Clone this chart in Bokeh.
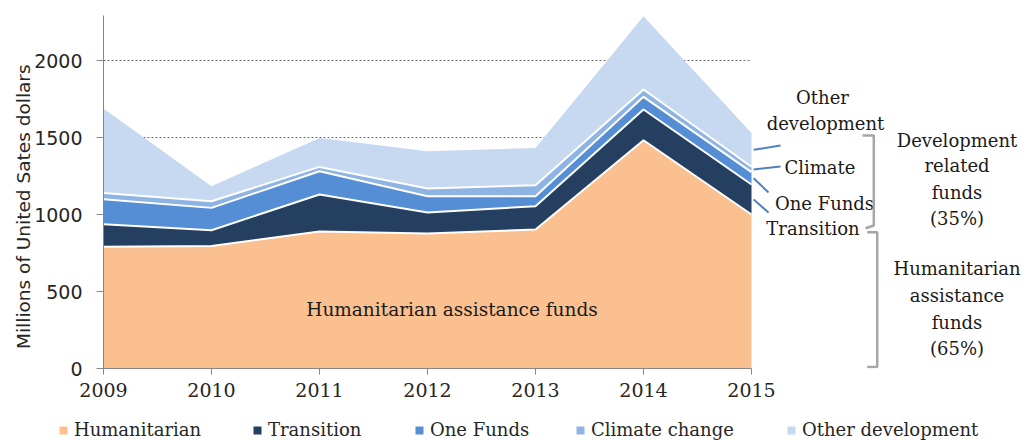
import math
from bokeh.plotting import figure
from bokeh.layouts import column, row
from bokeh.models import (ColumnDataSource, FixedTicker, Legend, LegendItem,
                          Range1d)
from bokeh.embed import file_html
from bokeh.resources import INLINE
from bokeh.core.properties import value

# ---------------- data ----------------
years = [2009, 2010, 2011, 2012, 2013, 2014, 2015]
humanitarian = [790, 795, 890, 876, 903, 1482, 1000]
transition = [147, 103, 240, 137, 151, 200, 195]
one_funds = [162, 145, 151, 106, 65, 82, 80]
climate_change = [41, 43, 28, 50, 71, 48, 35]
other_development = [548, 98, 188, 242, 242, 476, 220]

series_names = ["Humanitarian", "Transition", "One Funds", "Climate change",
                "Other development"]
y_ticks = [0, 500, 1000, 1500, 2000]
x_ticks = years

colors = ["#FAC090", "#243F60", "#558ED5", "#8EB4E3", "#C6D9F1"]

# ---------------- geometry (annotation placement only) ----------
PX_PER_YEAR = 108.0
PX_PER_UNIT = 0.154
LEFT, TOP, BOTTOM, W = 103, 15, 368, 1027
MAIN_H = 410
LEG_H = 440 - MAIN_H
FRAME_W = W - LEFT
FRAME_H = BOTTOM - TOP


def img_to_data(ix, iy):
    """convert a canvas pixel position to data coords"""
    return 2009 + (ix - LEFT) / PX_PER_YEAR, (BOTTOM - iy) / PX_PER_UNIT


p = figure(width=W, height=MAIN_H, output_backend="svg", toolbar_location=None,
           x_range=Range1d(2009, 2009 + FRAME_W / PX_PER_YEAR),
           y_range=Range1d(0, FRAME_H / PX_PER_UNIT),
           min_border_left=LEFT, min_border_right=0, min_border_top=TOP,
           min_border_bottom=MAIN_H - BOTTOM)
p.outline_line_color = None
p.xgrid.visible = False
p.ygrid.visible = False
p.background_fill_color = "white"

# dashed grid lines, only over the data span
p.segment(x0=[years[0]] * (len(y_ticks) - 1), x1=[years[-1]] * (len(y_ticks) - 1),
          y0=y_ticks[1:], y1=y_ticks[1:], line_color="#6F6F6F",
          line_width=1, line_dash="2 2")

src = ColumnDataSource(dict(year=years, hum=humanitarian, tra=transition,
                            one=one_funds, cli=climate_change,
                            oth=other_development))
stackers = ["hum", "tra", "one", "cli", "oth"]
areas = p.varea_stack(stackers, x="year", color=colors, source=src)

# white separator lines at the top of each layer (except last)
cum = [0] * len(years)
tops = []
for s in [humanitarian, transition, one_funds, climate_change, other_development]:
    cum = [a + b for a, b in zip(cum, s)]
    tops.append(list(cum))
for t in tops[:-1]:
    p.line(years, t, line_color="white", line_width=2)

# ---------------- axes ----------------
xa = p.xaxis[0]
xa.ticker = FixedTicker(ticks=x_ticks)
xa.bounds = (years[0], years[-1])
xa.axis_line_color = "#868686"
xa.major_tick_line_color = "#868686"
xa.major_tick_out = 6
xa.major_tick_in = 0
xa.minor_tick_line_color = None
xa.major_label_standoff = 8
xa.major_label_text_font = "DejaVu Serif"
xa.major_label_text_font_size = "19px"
xa.major_label_text_color = "#262626"

ya = p.yaxis[0]
ya.ticker = FixedTicker(ticks=y_ticks)
ya.axis_line_color = "#868686"
ya.major_tick_line_color = "#868686"
ya.major_tick_out = 7
ya.major_tick_in = 0
ya.minor_tick_line_color = None
ya.major_label_standoff = 14
ya.major_label_text_font = "DejaVu Sans"
ya.major_label_text_font_size = "19px"
ya.major_label_text_color = "#262626"
ya.axis_label = "Millions of  United Sates dollars" + "\u00a0" * 4
ya.axis_label_standoff = -3
ya.axis_label_text_font = "DejaVu Sans"
ya.axis_label_text_font_size = "18.5px"
ya.axis_label_text_font_style = "normal"
ya.axis_label_text_color = "#262626"

# ---------------- in-chart label ----------------
hx, hy = img_to_data(451.5, 309.3)
p.text(x=[hx], y=[hy], text=["Humanitarian assistance funds"],
       text_align="center", text_baseline="alphabetic",
       text_font=value("DejaVu Serif"), text_font_size="18.5px",
       text_color="#1a1a1a")

# ---------------- right-hand annotations ----------------
ann_pos = [(822, 97), (825, 123), (819.5, 167), (824, 203), (812.5, 228)]
ann_txt = ["Other", "development", "Climate", "One Funds", "Transition"]
grp_lines = ["Development", "related", "funds", "(35%)",
             "Humanitarian", "assistance", "funds", "(65%)"]
grp_y = [140, 165, 191.7, 218, 268.3, 295, 321.7, 348.3]
ax_, ay_ = [], []
for (ix, iy) in ann_pos:
    dx, dy = img_to_data(ix, iy)
    ax_.append(dx)
    ay_.append(dy)
for iy in grp_y:
    dx, dy = img_to_data(956.5, iy)
    ax_.append(dx)
    ay_.append(dy)
p.text(x=ax_, y=ay_, text=ann_txt + grp_lines, text_align="center",
       text_baseline="middle", text_font=value("DejaVu Serif"),
       text_font_size="18px", text_color="#1a1a1a")


# leader lines from middle of each band at 2015 to the labels
def mid(lo, hi):
    return (lo[-1] + hi[-1]) / 2.0


starts = [mid(tops[3], tops[4]), mid(tops[2], tops[3]),
          mid(tops[1], tops[2]), mid(tops[0], tops[1])]
ends_img = [(780, 145), (780, 166), (768, 192), (768, 212)]
x0s, y0s, x1s, y1s = [], [], [], []
for sy, (ex, ey) in zip(starts, ends_img):
    dx, dy = img_to_data(ex, ey)
    x0s.append(years[-1] + 0.02)
    y0s.append(sy)
    x1s.append(dx)
    y1s.append(dy)
p.segment(x0=x0s, y0=y0s, x1=x1s, y1=y1s, line_color="#4F81BD", line_width=2)

# brackets
b1 = [img_to_data(*q) for q in [(862, 135), (873.3, 135), (873.3, 225), (865, 227.7)]]
b2 = [img_to_data(*q) for q in [(866.7, 231.7), (876.7, 231.7), (876.7, 366.5), (866.7, 366.5)]]
p.multi_line(xs=[[q[0] for q in b1], [q[0] for q in b2]],
             ys=[[q[1] for q in b1], [q[1] for q in b2]],
             line_color="#A6A6A6", line_width=2.5)

# ---------------- legend strip (separate small figure) ----------------
p2 = figure(width=W, height=LEG_H, output_backend="svg", toolbar_location=None,
            x_axis_type=None, y_axis_type=None,
            x_range=Range1d(0, 1), y_range=Range1d(0, 1),
            min_border=0, min_border_left=0, min_border_right=0,
            min_border_top=0, min_border_bottom=0)
p2.outline_line_color = None
p2.xgrid.visible = False
p2.ygrid.visible = False
# same stacked series, outside p2's visible range: used only as legend swatches
leg_areas = p2.varea_stack(stackers, x="year", color=colors, source=src)
legend_x = [58, 252, 414, 575, 786]
for r, name, lxp in zip(leg_areas, series_names, legend_x):
    lg = Legend(items=[LegendItem(label=name, renderers=[r])],
                location=(lxp, 0), orientation="horizontal",
                padding=0, margin=0, spacing=0, glyph_width=10, glyph_height=10,
                label_standoff=6, border_line_color=None,
                background_fill_alpha=0, label_text_font="DejaVu Serif",
                label_text_font_size="18px", label_text_color="#262626")
    p2.add_layout(lg, "center")

layout = column(p, row(p2), spacing=0)
open("out.html", "w").write(file_html(layout, INLINE))
